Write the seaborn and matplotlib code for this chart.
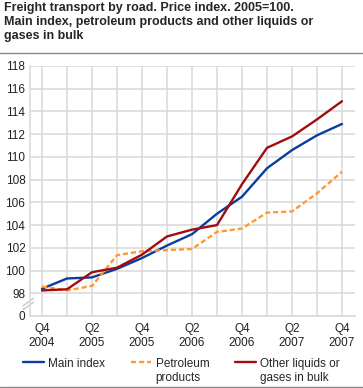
import matplotlib
matplotlib.use("Agg")
import matplotlib.pyplot as plt
import numpy as np
import pandas as pd
import seaborn as sns

# data
quarters = ["Q4\n2004", "Q1\n2005", "Q2\n2005", "Q3\n2005", "Q4\n2005", "Q1\n2006", "Q2\n2006",
            "Q3\n2006", "Q4\n2006", "Q1\n2007", "Q2\n2007", "Q3\n2007", "Q4\n2007"]
main_index = [98.4, 99.3, 99.4, 100.15, 101.1, 102.2, 103.2, 105.0, 106.5, 109.0, 110.6, 111.9, 112.9]
petroleum = [98.6, 98.25, 98.65, 101.35, 101.7, 101.8, 101.9, 103.4, 103.7, 105.1, 105.2, 106.8, 108.7]
other_bulk = [98.25, 98.35, 99.85, 100.25, 101.4, 103.0, 103.6, 104.0, 107.6, 110.8, 111.8, 113.3, 114.9]
series_names = ["Main index", "Petroleum\nproducts", "Other liquids or\ngases in bulk"]
ytick_vals = [96, 98, 100, 102, 104, 106, 108, 110, 112, 114, 116, 118]
ytick_labels = ["0"] + [str(v) for v in ytick_vals[1:]]

df = pd.DataFrame({
    "pos": list(range(len(quarters))) * 3,
    "value": main_index + petroleum + other_bulk,
    "series": [s for s in series_names for _ in quarters],
})

sns.set_style("white")
plt.rcParams['font.family'] = ['Liberation Sans', 'DejaVu Sans']

grid_col = "#d9d9d9"
colors = {series_names[0]: "#0a3d9f", series_names[1]: "#ff9933", series_names[2]: "#a00d0d"}
dash = {series_names[0]: "", series_names[1]: (2.2, 1.2), series_names[2]: ""}

fig = plt.figure(figsize=(3.63, 3.88), dpi=100)
ax = fig.add_axes([29.5 / 363, 1 - 316 / 388, 325 / 363, 250 / 388])

sns.lineplot(data=df, x="pos", y="value", hue="series", style="series",
             palette=colors, dashes=dash, linewidth=1.7, ax=ax, legend=True)

ax.set_xlim(-0.5, 12.5)
ax.set_ylim(96, 118)
ax.set_xticks(range(len(quarters)))
ax.set_xticklabels([q if i % 2 == 0 else "" for i, q in enumerate(quarters)])
ax.set_yticks(ytick_vals)
ax.set_yticklabels(ytick_labels)
ax.set_xlabel("")
ax.set_ylabel("")
ax.grid(True, color=grid_col, linewidth=1.1)
ax.set_axisbelow(True)
for s in ["top", "right"]:
    ax.spines[s].set_visible(False)
for s in ["left", "bottom"]:
    ax.spines[s].set_color(grid_col)
    ax.spines[s].set_linewidth(1.1)
ax.tick_params(axis="both", labelsize=8.5, colors="#222222", length=3, color=grid_col, pad=2)
ax.tick_params(axis="y", length=0, pad=3)

# axis break marks
for off in [0, 4]:
    ax.plot([-0.02, 0.012], [0.025 + off / 250, 0.055 + off / 250], transform=ax.transAxes,
            color="#c8c8c8", linewidth=1.0, clip_on=False)

handles, labels = ax.get_legend_handles_labels()
ax.get_legend().remove()
leg = fig.legend(handles, labels, loc="upper left", bbox_to_anchor=(23 / 363, 1 - 358 / 388),
                 ncol=3, frameon=False, fontsize=8.5, handlelength=1.75, handletextpad=0.35,
                 columnspacing=2.2, borderaxespad=0, borderpad=0, labelspacing=0.2)
# put the line next to the first text line, as in the original
leg._legend_handle_box.align = "top"
for col in leg._legend_handle_box.get_children():
    for row in col.get_children():
        row.align = "top"

fig.text(4 / 363, 1 - 2 / 388,
         "Freight transport by road. Price index. 2005=100.\n"
         "Main index, petroleum products and other liquids or\ngases in bulk",
         ha="left", va="top", fontsize=9, fontweight="bold", linespacing=1.2)
fig.add_artist(plt.Line2D([0, 1], [1 - 53 / 388] * 2, color="#888888", linewidth=1.0))
fig.add_artist(plt.Line2D([0, 1], [1 - 387 / 388] * 2, color="#888888", linewidth=1.0))

fig.savefig("out.png", dpi=100)
